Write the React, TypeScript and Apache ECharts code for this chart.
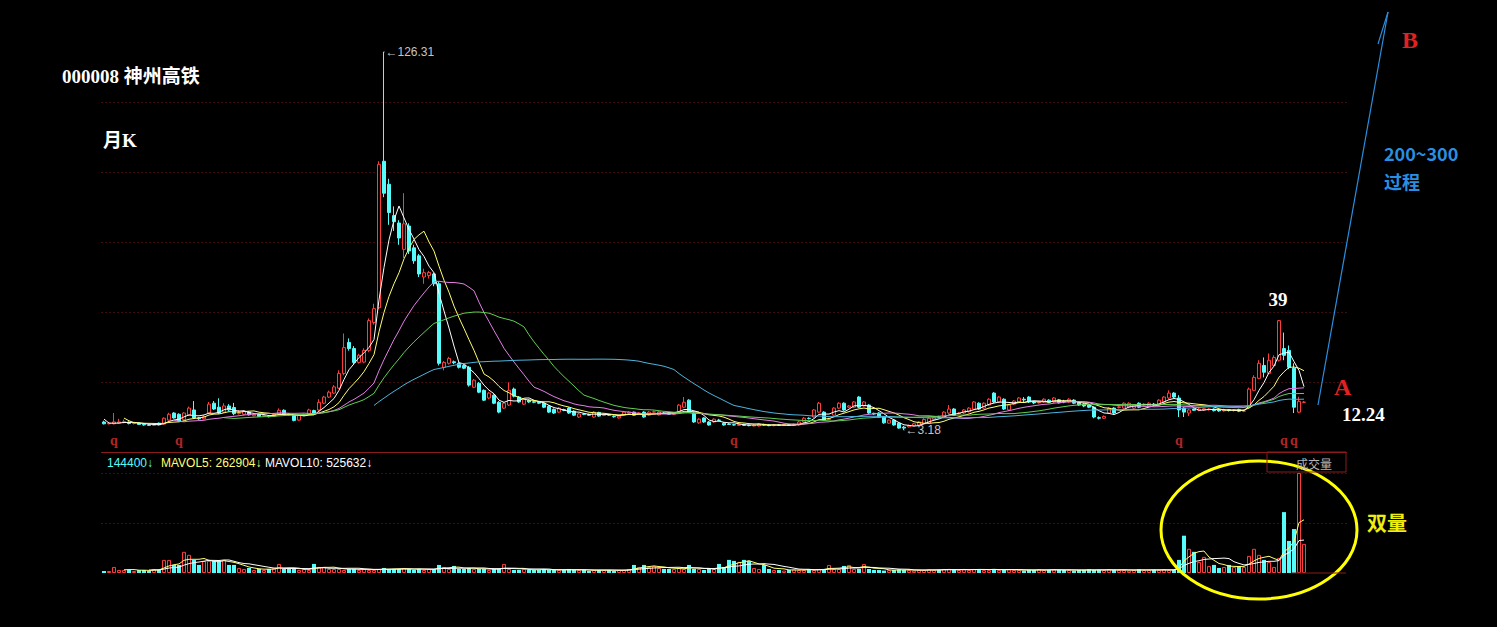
import React, { useEffect, useRef } from 'react';
import * as echarts from 'echarts';

// ---- data (monthly K, 000008) ----
const priorCloses = [14, 12, 6, 5.5, 5.0];
const opens = [
  5.8,5.2,5.2,5.4,5.6,5.7,5.3,5.4,5.0,4.8,
  4.7,5.4,5.1,6.4,8.7,8.3,6.5,8.0,9.7,7.1,
  6.8,8.7,11.9,10.6,9.0,11.0,10.5,8.5,8.3,9.0,
  7.8,8.3,7.7,7.6,7.6,8.4,9.6,8.3,8.0,6.4,
  7.9,8.3,9.5,9.7,11.9,13.9,15.2,16.8,21.6,31.7,
  29.7,25.2,25.3,29.1,38.2,43.0,90.7,83.2,73.0,70.6,
  62.0,69.6,62.5,59.9,53.0,53.5,54.0,50.8,23.6,24.9,
  25.4,24.9,24.2,23.6,17.1,18.4,16.1,13.6,14.5,12.2,
  10.3,11.3,16.5,13.9,11.6,12.9,12.4,12.2,11.9,10.9,
  9.9,9.0,9.8,10.3,9.3,7.4,8.4,8.2,7.4,8.9,
  7.9,8.2,7.6,7.1,8.0,8.6,9.0,8.5,9.0,8.0,
  9.0,8.1,8.7,8.5,8.3,9.0,10.6,12.9,8.7,5.5,
  7.1,5.8,5.8,6.4,5.4,5.1,4.9,4.7,5.0,4.7,
  4.5,4.5,5.0,4.8,4.6,4.8,4.7,4.9,4.7,4.8,
  5.8,7.0,7.4,9.0,9.0,6.6,8.0,10.3,11.9,10.6,
  10.6,13.9,11.0,11.3,8.6,8.7,7.4,5.4,6.4,5.4,
  4.1,4.2,4.6,4.8,5.2,5.4,6.6,7.4,7.4,8.7,
  10.0,8.5,8.7,9.1,10.0,11.9,10.3,11.3,15.2,12.3,
  13.2,9.7,11.6,12.3,13.2,13.9,12.3,12.0,12.3,12.9,
  12.3,13.0,12.4,12.3,12.9,12.2,11.6,11.3,10.6,7.2,
  7.0,8.7,10.3,10.5,10.3,10.6,10.3,11.9,11.3,11.0,
  11.6,11.3,12.3,13.6,15.2,13.6,10.3,8.7,10.0,9.6,
  9.7,9.8,10.0,9.7,9.4,9.8,9.5,9.8,9.3,10.6,
  16.1,20.0,24.2,21.6,24.2,25.9,29.7,29.1,23.3,9.0,
  12.2,
];
const closes = [
  5.2,5.4,5.8,5.8,5.9,5.3,5.5,5.0,4.8,4.7,
  4.9,4.9,7.0,8.3,7.1,6.1,8.7,10.3,7.1,6.8,
  7.5,11.6,10.0,8.7,11.0,9.7,8.5,8.8,9.2,8.1,
  8.2,7.6,7.9,7.5,8.3,9.6,8.3,8.1,6.3,7.9,
  8.2,9.7,8.4,12.2,13.9,15.5,17.2,21.6,30.0,29.7,
  25.2,27.5,29.1,38.8,42.7,89.7,80.3,74.0,71.0,65.7,
  70.3,61.5,58.3,54.0,54.4,54.5,50.8,24.9,25.2,26.5,
  25.1,23.6,23.3,17.8,19.4,15.5,12.9,15.2,11.9,9.0,
  11.9,16.1,14.2,12.3,13.2,12.3,12.2,11.9,10.6,9.0,
  8.7,10.3,9.6,8.7,8.0,8.4,8.3,8.0,9.0,7.7,
  8.3,8.0,7.5,7.7,9.0,9.0,8.0,8.7,7.4,9.0,
  9.1,9.1,8.6,8.3,8.7,11.3,12.2,9.0,5.8,6.7,
  5.8,4.8,6.7,6.3,4.8,5.0,4.8,5.0,4.7,4.6,
  4.8,5.1,4.8,4.6,4.8,4.7,4.9,4.7,5.0,5.8,
  7.0,6.9,9.7,11.9,6.4,6.9,10.3,11.9,9.7,11.0,
  12.3,10.6,12.3,8.7,8.4,7.4,5.5,6.4,4.8,3.8,
  3.8,4.6,5.2,5.8,6.6,7.0,7.2,7.3,9.0,10.0,
  8.0,8.7,9.7,10.3,12.3,10.0,11.9,13.2,12.3,13.9,
  10.0,11.3,12.6,13.6,13.0,12.3,12.0,12.2,13.2,12.2,
  13.6,12.0,12.3,13.2,11.9,11.3,11.0,10.6,7.4,7.0,
  7.6,10.3,8.7,10.7,11.9,11.9,11.3,10.6,11.6,11.9,
  11.3,12.9,13.9,15.2,13.9,9.7,9.0,9.7,9.6,10.0,
  10.1,10.0,9.5,9.4,9.8,9.5,9.7,9.3,9.4,16.5,
  20.3,24.9,22.0,25.9,26.8,38.8,27.5,23.6,10.6,12.5,
  12.24,
];
const highs = [
  6.2,5.8,8.7,6.8,6.6,6.0,5.8,5.6,5.3,5.0,
  5.1,5.6,7.3,8.8,9.0,8.6,9.0,10.8,12.6,7.4,
  8.0,12.3,12.6,13.5,11.9,11.6,12.0,9.6,9.5,9.3,
  8.5,8.6,8.2,7.9,8.6,10.2,9.9,8.6,8.2,8.3,
  8.6,10.1,9.8,13.2,14.3,16.0,17.8,22.6,34.6,33.0,
  30.5,28.0,29.8,39.5,44.3,90.7,126.31,85.0,76.0,71.5,
  80.3,70.5,63.5,60.5,55.7,55.0,54.5,51.5,25.6,27.0,
  25.8,25.2,25.0,24.0,19.8,18.8,16.4,15.5,14.8,12.6,
  12.3,18.7,17.0,14.2,13.5,13.2,12.7,12.5,12.2,11.2,
  10.2,10.6,10.1,10.6,9.6,8.7,8.7,8.5,9.3,9.1,
  8.5,8.4,7.9,8.0,9.4,9.3,9.2,8.9,9.3,9.3,
  9.5,9.3,9.0,8.8,9.0,11.6,13.9,13.2,9.0,7.0,
  7.3,6.1,7.0,6.8,5.7,5.4,5.2,5.3,5.2,4.9,
  5.1,5.4,5.2,5.0,5.1,5.0,5.2,5.1,5.3,6.2,
  7.4,7.3,10.0,12.3,9.3,7.2,10.6,12.2,12.2,11.3,
  12.6,14.2,12.6,11.6,8.8,9.0,7.6,6.6,6.7,5.6,
  4.5,4.9,5.5,6.1,7.0,7.4,7.6,7.8,9.3,11.3,
  10.3,9.0,10.0,10.6,12.6,12.2,12.2,13.5,15.5,14.2,
  13.5,11.6,12.9,13.9,13.9,14.2,12.6,12.5,13.5,13.2,
  13.9,13.3,13.0,13.5,13.2,12.5,11.9,11.6,10.9,7.6,
  7.9,10.6,10.6,11.0,12.2,12.2,11.6,12.2,11.9,12.2,
  12.0,13.2,14.2,16.1,15.5,14.5,10.6,10.0,10.2,10.3,
  10.4,10.3,10.2,9.9,10.1,10.0,10.0,10.1,9.8,17.0,
  21.0,25.9,26.8,28.1,27.5,39.0,34.9,30.7,24.9,14.0,
  12.6,
];
const lows = [
  5.0,5.0,5.0,5.2,5.4,5.0,5.0,4.8,4.6,4.5,
  4.5,4.7,4.9,6.2,6.9,5.9,6.2,7.8,6.8,6.5,
  6.6,8.4,9.7,8.4,8.7,9.3,8.0,8.2,8.0,7.9,
  7.6,7.4,7.5,7.3,7.4,8.2,8.0,7.9,6.0,6.2,
  7.7,8.1,8.1,9.4,11.6,13.6,14.9,16.5,21.0,29.0,
  24.6,24.8,24.9,28.5,37.5,42.5,79.0,70.0,68.0,63.5,
  59.2,60.5,57.3,53.0,50.8,52.5,50.0,24.2,22.6,24.5,
  24.6,23.2,23.0,17.3,16.8,15.2,12.6,13.2,11.6,8.6,
  10.0,11.0,13.8,12.0,11.3,12.0,11.9,11.6,10.3,8.7,
  8.4,8.8,9.3,8.4,7.7,7.1,8.0,7.8,7.2,7.5,
  7.7,7.8,7.2,6.9,7.8,8.4,7.8,8.3,7.2,7.8,
  8.8,7.9,8.4,8.1,8.1,8.8,10.3,8.7,5.5,5.2,
  5.5,4.6,5.5,6.0,4.6,4.8,4.6,4.5,4.5,4.4,
  4.3,4.3,4.6,4.4,4.4,4.5,4.5,4.5,4.5,4.6,
  5.6,6.6,7.2,8.8,6.2,6.4,7.8,10.0,9.4,10.3,
  10.3,10.3,10.8,8.4,8.1,7.1,5.2,5.2,4.6,3.6,
  3.18,4.0,4.4,4.6,5.0,5.2,6.3,7.0,7.2,8.4,
  7.8,8.3,8.4,8.9,9.7,9.7,10.0,11.0,12.0,12.0,
  9.7,9.4,11.3,12.0,12.3,12.0,11.6,11.8,12.0,11.9,
  12.0,11.8,11.9,12.0,11.6,11.0,10.6,10.3,7.0,6.6,
  6.8,8.4,8.4,10.2,10.0,10.3,10.0,10.3,11.0,10.8,
  11.0,11.0,12.0,13.2,13.6,7.4,7.4,7.7,9.4,9.3,
  9.4,9.5,9.2,9.1,9.2,9.2,9.2,9.0,9.0,10.3,
  15.8,19.7,20.3,21.3,23.9,25.5,25.9,23.0,8.7,8.7,
  11.9,
];
// volume, thousands of lots
const volumes = [
  10,10,30,15,15,15,10,15,15,10,
  20,15,65,65,40,40,105,90,65,40,
  60,60,60,60,65,40,40,25,20,25,
  15,20,15,20,25,45,20,20,20,15,
  20,15,45,30,30,20,20,20,15,20,
  20,15,20,15,15,20,25,20,20,20,
  25,20,15,20,15,20,20,40,30,20,
  35,20,20,25,20,20,20,15,20,20,
  45,20,15,15,20,15,15,15,20,15,
  15,15,15,20,15,15,15,10,15,15,
  15,15,10,15,15,20,40,30,40,30,
  35,25,20,20,20,25,20,40,20,20,
  15,20,20,45,30,65,60,55,65,60,
  25,20,40,20,15,15,12,15,18,15,
  15,18,15,20,20,40,20,20,35,40,
  20,20,45,20,15,15,12,15,15,18,
  15,15,12,15,15,18,15,15,20,20,
  15,15,18,15,20,20,15,15,20,15,
  15,18,15,15,12,15,15,18,15,15,
  18,15,15,15,12,15,15,18,15,15,
  15,18,15,15,15,12,15,18,15,15,
  15,15,18,15,15,65,185,120,105,55,
  80,35,40,25,30,40,30,35,30,85,
  120,90,65,55,30,75,302,159,218,496,
  144.4,
];
const exRightsIdx = [2, 15, 126, 215, 236, 238];
const maPeriods = [5, 10, 20, 30, 60];
const maColors = ['#FFFFFF', '#FFFF70', '#E47FE4', '#5FCF4F', '#4CB4DE'];
const volMaPeriods = [5, 10];
const volMaColors = ['#FFFF70', '#FFFFFF'];
const volLegend = ['144400', '262904', '525632'];
const padSlots = 8;

const RED = '#FF3C3C';
const CYAN = '#54FCFC';
const GRID_RED = '#7d1a1a';

function movingAverage(period: number, src: number[], prior: number[] = []) {
  const all = prior.concat(src);
  return src.map((_, i) => {
    const end = i + prior.length;
    if (end < period - 1) return null;
    let s = 0;
    for (let k = end - period + 1; k <= end; k++) s += all[k];
    return +(s / period).toFixed(3);
  });
}

export default function App() {
  const ref = useRef<HTMLDivElement>(null);
  useEffect(() => {
    if (!ref.current) return;
    const chart = echarts.init(ref.current, undefined, { renderer: 'svg' });
    const n = opens.length;
    const cats = Array.from({ length: n + padSlots }, (_, i) => String(i));
    const kData = opens.map((o, i) => [o, closes[i], lows[i], highs[i]]);
    const volData = volumes.map((v, i) => {
      const up = closes[i] >= opens[i];
      return {
        value: v,
        itemStyle: up
          ? { color: '#000000', borderColor: RED, borderWidth: 1 }
          : { color: CYAN, borderColor: CYAN, borderWidth: 0 },
      };
    });
    const lastClose = closes[n - 1];
    const recentPeak = Math.max(...highs.slice(n - 20));
    const qLevel = -0.1;

    const serif = '"Liberation Serif", "Noto Sans CJK SC"';
    const sans = '"Liberation Sans", Arial';

    const option: any = {
      animation: false,
      backgroundColor: '#000000',
      grid: [
        { left: 101.5, width: 1245, top: 32, height: 420 },
        { left: 101.5, width: 1245, top: 473, height: 100 },
      ],
      xAxis: [
        {
          type: 'category', gridIndex: 0, data: cats, boundaryGap: true,
          axisLine: { show: true, onZero: false, lineStyle: { color: '#8a1c1c', width: 1 } },
          axisTick: { show: false }, axisLabel: { show: false }, splitLine: { show: false },
        },
        {
          type: 'category', gridIndex: 1, data: cats, boundaryGap: true,
          axisLine: { show: false, onZero: false }, axisTick: { show: false },
          axisLabel: { show: false }, splitLine: { show: false },
        },
      ],
      yAxis: [
        { type: 'value', gridIndex: 0, min: -3.99, max: 132.8, show: false, scale: false },
        {
          type: 'value', gridIndex: 0, min: 0, max: 6, interval: 1, position: 'right',
          axisLine: { show: false, onZero: false }, axisTick: { show: false }, axisLabel: { show: false },
          splitLine: { show: true, showMinLine: false, showMaxLine: false, lineStyle: { color: GRID_RED, type: [1, 3], width: 1 } },
        },
        {
          type: 'value', gridIndex: 1, min: 0, max: 496, interval: 248,
          axisLine: { show: false, onZero: false }, axisTick: { show: false }, axisLabel: { show: false },
          splitLine: { show: true, showMinLine: false, lineStyle: { color: GRID_RED, type: [1, 3], width: 1 } },
        },
      ],
      series: [
        {
          type: 'candlestick', xAxisIndex: 0, yAxisIndex: 0, data: kData, barWidth: 3,
          itemStyle: { color: '#000000', color0: CYAN, borderColor: RED, borderColor0: CYAN, borderWidth: 1 },
          markPoint: {
            symbol: 'circle', symbolSize: 1,
            itemStyle: { color: '#cccccc' },
            label: {
              show: true, position: 'right', distance: 1,
              formatter: (p: any) => '\u2190' + p.value,
              color: '#c4c4c4', fontSize: 12, fontFamily: sans,
            },
            data: [
              { type: 'max', valueDim: 'highest' },
              { type: 'min', valueDim: 'lowest' },
            ],
          },
          z: 2,
        },
        ...maPeriods.map((p, k) => ({
          type: 'line', name: 'MA' + p, xAxisIndex: 0, yAxisIndex: 0,
          data: movingAverage(p, closes, priorCloses),
          showSymbol: false, symbol: 'none', silent: true,
          lineStyle: { width: 1, color: maColors[k] }, z: 3,
        })),
        {
          type: 'scatter', xAxisIndex: 0, yAxisIndex: 0,
          data: exRightsIdx.map((i) => [i, qLevel]),
          symbol: 'circle', symbolSize: 1, itemStyle: { color: 'rgba(0,0,0,0)' },
          label: { show: true, position: 'inside', formatter: 'q', color: '#E03030', fontSize: 14, fontWeight: 'bold', fontFamily: serif },
          silent: true, z: 4,
        },
        {
          type: 'bar', xAxisIndex: 1, yAxisIndex: 2, data: volData, barWidth: 4, z: 2,
        },
        ...volMaPeriods.map((p, k) => ({
          type: 'line', name: 'MAVOL' + p, xAxisIndex: 1, yAxisIndex: 2,
          data: movingAverage(p, volumes),
          showSymbol: false, symbol: 'none', silent: true,
          lineStyle: { width: 1, color: volMaColors[k] }, z: 3,
        })),
      ],
      graphic: [
        { type: 'text', x: 62, y: 76, z: 100, style: { text: '000008 神州高铁', fill: '#FFFFFF', font: `bold 19px ${serif}`, verticalAlign: 'middle', textVerticalAlign: 'middle' } },
        { type: 'text', x: 103, y: 140, z: 100, style: { text: '月K', fill: '#FFFFFF', font: `bold 19px ${serif}`, verticalAlign: 'middle', textVerticalAlign: 'middle' } },
        { type: 'text', x: 1278, y: 299, z: 100, style: { text: String(recentPeak), fill: '#FFFFFF', font: `bold 19px ${serif}`, align: 'center', textAlign: 'center', verticalAlign: 'middle', textVerticalAlign: 'middle' } },
        { type: 'text', x: 1334, y: 387, z: 100, style: { text: 'A', fill: '#E02222', font: `bold 24px ${serif}`, verticalAlign: 'middle', textVerticalAlign: 'middle' } },
        { type: 'text', x: 1342, y: 414, z: 100, style: { text: String(lastClose), fill: '#FFFFFF', font: `bold 19px ${serif}`, verticalAlign: 'middle', textVerticalAlign: 'middle' } },
        { type: 'text', x: 1402, y: 40, z: 100, style: { text: 'B', fill: '#E02222', font: `bold 24px ${serif}`, verticalAlign: 'middle', textVerticalAlign: 'middle' } },
        { type: 'text', x: 1384, y: 153, z: 100, style: { text: '200~300', fill: '#2A8FE0', font: 'bold 18px "Noto Sans CJK SC"', verticalAlign: 'middle', textVerticalAlign: 'middle' } },
        { type: 'text', x: 1384, y: 181, z: 100, style: { text: '过程', fill: '#2A8FE0', font: 'bold 18px "Noto Sans CJK SC"', verticalAlign: 'middle', textVerticalAlign: 'middle' } },
        { type: 'line', z: 100, shape: { x1: 1318, y1: 405, x2: 1388, y2: 12 }, style: { stroke: '#2A8FE0', lineWidth: 1.2 } },
        { type: 'line', z: 100, shape: { x1: 1388, y1: 12, x2: 1378, y2: 44 }, style: { stroke: '#2A8FE0', lineWidth: 1.2 } },
        { type: 'ellipse', z: 100, shape: { cx: 1259, cy: 530, rx: 98, ry: 69 }, style: { stroke: '#FFFF00', fill: 'none', lineWidth: 3 } },
        { type: 'text', x: 1367, y: 522, z: 100, style: { text: '双量', fill: '#EEEE10', font: 'bold 20px "Noto Sans CJK SC"', verticalAlign: 'middle', textVerticalAlign: 'middle' } },
        { type: 'text', x: 107, y: 463, z: 100, style: { text: volLegend[0] + '\u2193', fill: CYAN, font: `12px ${sans}`, verticalAlign: 'middle', textVerticalAlign: 'middle' } },
        { type: 'text', x: 161, y: 463, z: 100, style: { text: 'MAVOL5: ' + volLegend[1] + '\u2193', fill: '#FFFF70', font: `12px ${sans}`, verticalAlign: 'middle', textVerticalAlign: 'middle' } },
        { type: 'text', x: 265, y: 463, z: 100, style: { text: 'MAVOL10: ' + volLegend[2] + '\u2193', fill: '#FFFFFF', font: `12px ${sans}`, verticalAlign: 'middle', textVerticalAlign: 'middle' } },
        { type: 'rect', z: 100, shape: { x: 1267, y: 452, width: 79, height: 20 }, style: { stroke: '#8a1c1c', fill: 'none', lineWidth: 1 } },
        { type: 'text', x: 1296, y: 463, z: 100, style: { text: '成交量', fill: '#B4B4B4', font: '12px "Noto Sans CJK SC"', verticalAlign: 'middle', textVerticalAlign: 'middle' } },
        { type: 'line', z: 100, shape: { x1: 1292, y1: 573, x2: 1346, y2: 573 }, style: { stroke: '#8a1c1c', lineWidth: 1 } },
      ],
    };
    chart.setOption(option);
    return () => chart.dispose();
  }, []);
  return (
    <div
      ref={ref}
      style={{ position: 'fixed', left: 0, top: 0, width: 1497, height: 627, background: '#000000' }}
    />
  );
}
